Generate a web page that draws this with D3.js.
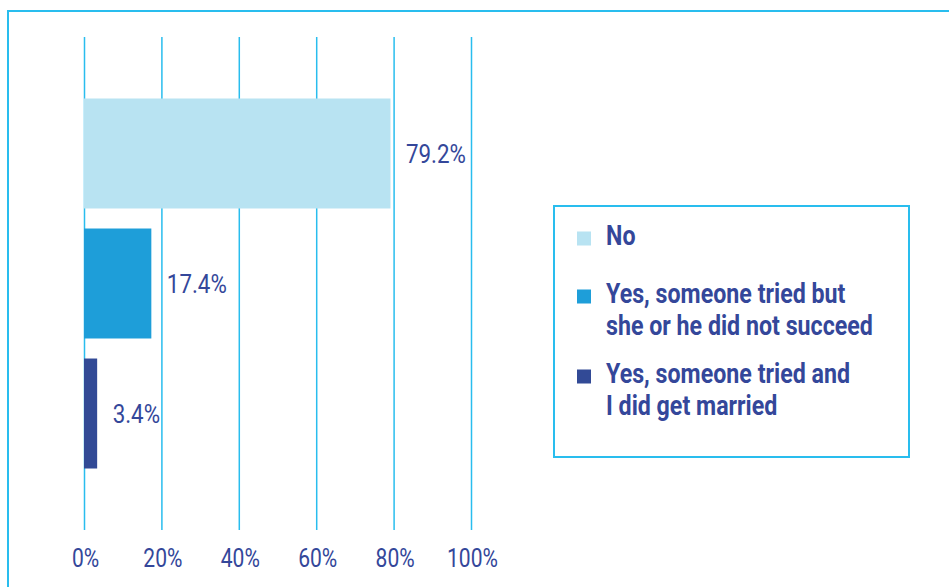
<!DOCTYPE html>
<html>
<head>
<meta charset="utf-8">
<script src="https://cdn.jsdelivr.net/npm/d3@7"></script>
<style>
  html, body { margin: 0; padding: 0; background: #fff; }
  svg { display: block; }
  text { font-family: "Roboto", "Liberation Sans", sans-serif; }
</style>
</head>
<body>
<svg id="chart" width="949" height="587"></svg>
<script>
const categories = ["No", "Yes, someone tried but she or he did not succeed", "Yes, someone tried and I did get married"];
const values = [79.2, 17.4, 3.4];
const legendLines = [["No"], ["Yes, someone tried but", "she or he did not succeed"], ["Yes, someone tried and", "I did get married"]];
const tickValues = [0, 20, 40, 60, 80, 100];
const colors = ["#b8e3f2", "#1e9ed9", "#324a96"];

const textColor = "#34479a";
const lineColor = "#29bdee";
const sx = 0.81;   // horizontal condensing of tick text
const sxv = 0.86;  // horizontal condensing of value labels

const svg = d3.select("#chart");

// outer frame
svg.append("rect")
  .attr("x", 8).attr("y", 11)
  .attr("width", 960).attr("height", 600)
  .attr("fill", "none").attr("stroke", lineColor).attr("stroke-width", 2);

const x = d3.scaleLinear().domain([0, 100]).range([84, 471]);
const y = d3.scaleBand().domain(categories).range([37, 530]).paddingInner(0.154).paddingOuter(0.473);

// axis with gridlines
const axis = d3.axisBottom(x)
  .tickValues(tickValues)
  .tickFormat(d => d + "%")
  .tickSizeInner(-(530 - 37))
  .tickSizeOuter(0)
  .tickPadding(19);

const g = svg.append("g").attr("transform", "translate(0,530)").call(axis);
g.select(".domain").remove();
g.selectAll(".tick line").attr("stroke", lineColor).attr("stroke-width", 1.5);
g.selectAll(".tick text")
  .attr("fill", textColor)
  .attr("y", 0).attr("dy", null)
  .attr("transform", `translate(1,37) scale(${sx},1)`)
  .style("font-family", "Roboto, sans-serif")
  .style("font-size", "26px");

// bars
svg.append("g").selectAll("rect")
  .data(categories)
  .join("rect")
  .attr("x", x(0))
  .attr("y", d => y(d))
  .attr("width", (d, i) => x(values[i]) - x(0))
  .attr("height", y.bandwidth())
  .attr("fill", (d, i) => colors[i]);

// value labels
svg.append("g").selectAll("text")
  .data(categories)
  .join("text")
  .attr("transform", (d, i) => `translate(${x(values[i]) + 15.5},${y(d) + y.bandwidth() / 2 + 9.5}) scale(${sxv},1)`)
  .attr("fill", textColor)
  .style("font-size", "26px")
  .text((d, i) => values[i].toFixed(1) + "%");

// legend
const lg = svg.append("g");
lg.append("rect")
  .attr("x", 554).attr("y", 206)
  .attr("width", 355).attr("height", 251)
  .attr("fill", "none").attr("stroke", lineColor).attr("stroke-width", 2);

const legendY = [245, 303, 383];
categories.forEach((c, i) => {
  lg.append("rect")
    .attr("x", 577).attr("y", legendY[i] - 13.5)
    .attr("width", 14).attr("height", 14)
    .attr("fill", colors[i]);
  const t = lg.append("text")
    .attr("transform", `translate(606,${legendY[i]}) scale(0.86,1)`)
    .attr("fill", textColor)
    .style("font-size", "27px")
    .style("font-weight", "bold");
  legendLines[i].forEach((line, j) => {
    t.append("tspan").attr("x", 0).attr("y", j * 32.5).text(line);
  });
});
</script>
</body>
</html>
